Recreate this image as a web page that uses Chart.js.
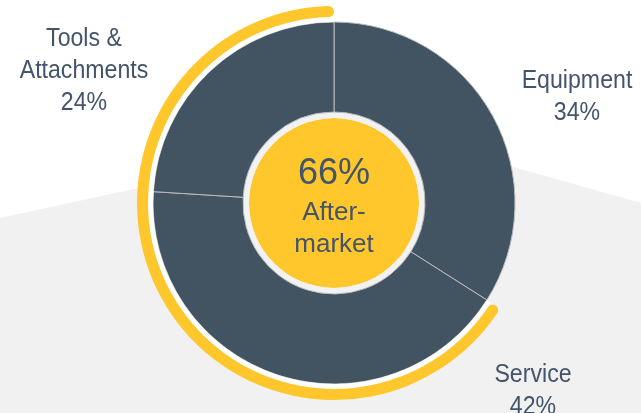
<!DOCTYPE html>
<html>
<head>
<meta charset="utf-8">
<script src="https://cdn.jsdelivr.net/npm/chart.js@4.4.1/dist/chart.umd.min.js"></script>
<style>
  html, body { margin: 0; padding: 0; background: #ffffff; overflow: hidden; }
  #wrap { width: 641px; height: 413px; position: relative; }
  canvas { display: block; }
</style>
</head>
<body>
<div id="wrap"><canvas id="c" width="641" height="413"></canvas></div>
<script>
// ---- data ----
const categories = ['Equipment', 'Service', 'Tools & Attachments'];
const labelLines = [['Equipment'], ['Service'], ['Tools &', 'Attachments']];
const shares = [34, 42, 24];
const aftermarketCategories = ['Service', 'Tools & Attachments'];
const centerLabel = ['After-', 'market'];

// derived from the data
const aftermarket = shares.filter((v, i) => aftermarketCategories.includes(categories[i])).reduce((a, b) => a + b, 0);
const split = [shares[0], aftermarket];

// ---- styles / layout ----
const YELLOW = '#FFC72C';
const SLATE = '#425361';
const TEXT = '#44546A';
const BG_GRAY = '#F1F1F1';
const labelPos = [
  { x: 577, y: 88 },   // Equipment
  { x: 533, y: 382 },  // Service
  { x: 84, y: 46 }     // Tools & Attachments
];
const LINE_H = 32;
const LABEL_SX = 0.89;

const bgPlugin = {
  id: 'bg',
  beforeDraw(chart) {
    const ctx = chart.ctx;
    ctx.save();
    ctx.fillStyle = '#ffffff';
    ctx.fillRect(0, 0, chart.width, chart.height);
    ctx.fillStyle = BG_GRAY;
    ctx.beginPath();
    ctx.moveTo(0, 218);
    ctx.lineTo(393, 133);
    ctx.lineTo(641, 203);
    ctx.lineTo(641, 413);
    ctx.lineTo(0, 413);
    ctx.closePath();
    ctx.fill();
    ctx.restore();
  }
};

const textPlugin = {
  id: 'texts',
  afterDraw(chart) {
    const ctx = chart.ctx;
    ctx.save();
    ctx.fillStyle = TEXT;
    ctx.textAlign = 'center';
    ctx.textBaseline = 'alphabetic';
    ctx.font = '26px "Liberation Sans", Arial, sans-serif';
    categories.forEach((c, i) => {
      const lines = labelLines[i].concat([shares[i] + '%']);
      lines.forEach((t, j) => {
        ctx.save();
        ctx.translate(labelPos[i].x, labelPos[i].y + j * LINE_H);
        ctx.scale(LABEL_SX, 1);
        ctx.fillText(t, 0, 0);
        ctx.restore();
      });
    });
    const meta = chart.getDatasetMeta(4);
    const cx = meta.data[0].x, cy = meta.data[0].y;
    ctx.font = '36px "Liberation Sans", Arial, sans-serif';
    ctx.fillText(aftermarket + '%', cx, cy - 19);
    ctx.font = '26px "Liberation Sans", Arial, sans-serif';
    ctx.fillText(centerLabel[0], cx, cy + 17);
    ctx.fillText(centerLabel[1], cx, cy + 49);
    ctx.restore();
  }
};

new Chart(document.getElementById('c'), {
  type: 'doughnut',
  data: {
    labels: categories,
    datasets: [
      { // outer aftermarket arc
        data: split,
        backgroundColor: ['rgba(0,0,0,0)', YELLOW],
        borderWidth: 0,
        borderRadius: (ctx) => ctx.dataIndex === 1 ? 5.5 : 0,
        weight: 11
      },
      { // gap under arc
        data: split,
        backgroundColor: ['rgba(0,0,0,0)', '#ffffff'],
        borderWidth: 0,
        weight: 5
      },
      { // main donut
        data: shares,
        backgroundColor: SLATE,
        borderColor: '#b9bcbf',
        borderWidth: 1,
        weight: 90
      },
      { // light ring around center
        data: [1],
        backgroundColor: '#f2f2f2',
        borderWidth: 0,
        weight: 6
      },
      { // center disc
        data: [1],
        backgroundColor: YELLOW,
        borderWidth: 0,
        weight: 85
      }
    ]
  },
  options: {
    responsive: false,
    animation: false,
    devicePixelRatio: 1,
    events: [],
    cutout: 0,
    radius: 197,
    layout: { padding: { top: 6, bottom: 13, left: 137, right: 110 } },
    plugins: { legend: { display: false }, tooltip: { enabled: false } }
  },
  plugins: [bgPlugin, textPlugin]
});
</script>
</body>
</html>
